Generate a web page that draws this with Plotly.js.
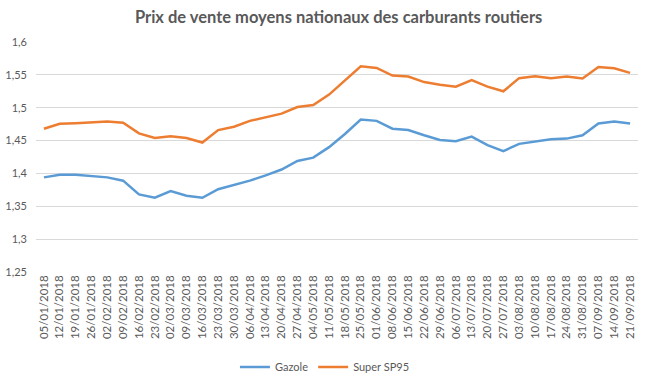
<!DOCTYPE html>
<html><head><meta charset="utf-8">
<script src="https://cdn.plot.ly/plotly-3.0.1.min.js"></script>
<style>html,body{margin:0;padding:0;background:#fff}#c{width:645px;height:389px}</style>
</head><body><div id="c"></div>
<script>
const dates = ["05/01/2018","12/01/2018","19/01/2018","26/01/2018","02/02/2018","09/02/2018","16/02/2018","23/02/2018","02/03/2018","09/03/2018","16/03/2018","23/03/2018","30/03/2018","06/04/2018","13/04/2018","20/04/2018","27/04/2018","04/05/2018","11/05/2018","18/05/2018","25/05/2018","01/06/2018","08/06/2018","15/06/2018","22/06/2018","29/06/2018","06/07/2018","13/07/2018","20/07/2018","27/07/2018","03/08/2018","10/08/2018","17/08/2018","24/08/2018","31/08/2018","07/09/2018","14/09/2018","21/09/2018"];
const gazole = [1.394,1.398,1.398,1.3955,1.394,1.389,1.368,1.363,1.373,1.366,1.363,1.376,1.382,1.389,1.397,1.406,1.419,1.424,1.440,1.460,1.482,1.480,1.468,1.466,1.458,1.451,1.449,1.456,1.443,1.434,1.445,1.448,1.452,1.453,1.458,1.476,1.479,1.476];
const sp95 = [1.468,1.4755,1.4765,1.478,1.479,1.477,1.461,1.454,1.4565,1.454,1.447,1.466,1.471,1.480,1.485,1.491,1.501,1.504,1.520,1.542,1.563,1.5605,1.549,1.5475,1.539,1.535,1.532,1.542,1.532,1.525,1.545,1.548,1.545,1.5475,1.5445,1.562,1.560,1.553];
const yTicks = [1.25,1.3,1.35,1.4,1.45,1.5,1.55,1.6];

const font = "Lato, 'Open Sans', sans-serif";
Plotly.newPlot('c', [
  {x: dates, y: gazole, name: 'Gazole', type: 'scatter', mode: 'lines', line: {color: '#5B9BD5', width: 2.5}},
  {x: dates, y: sp95, name: 'Super SP95', type: 'scatter', mode: 'lines', line: {color: '#ED7D31', width: 2.5}}
], {
  width: 645, height: 389,
  margin: {l: 36, r: 7, t: 42, b: 101},
  paper_bgcolor: '#fff', plot_bgcolor: '#fff',
  separators: ', ',
  font: {family: font, color: '#595959', size: 11},
  title: {text: '<b>Prix de vente moyens nationaux des carburants routiers</b>', font: {family: font, size: 16.5, color: '#595959'}, x: 0.525, xanchor: 'center', y: 0.955, yanchor: 'middle'},
  xaxis: {type: 'category', range: [-0.5, 37.5], tickangle: -90, showgrid: false, zeroline: false, showline: false, ticks: '', tickfont: {size: 11.5, color: '#595959'}, fixedrange: true},
  yaxis: {range: [1.25, 1.6], tickvals: yTicks, ticktext: yTicks.map(v => String(v).replace('.', ',')), showgrid: true, gridcolor: '#D9D9D9', gridwidth: 1, zeroline: false, showline: false, ticks: '', ticklen: 0, ticklabelstandoff: 8, tickfont: {size: 11, color: '#595959'}, fixedrange: true},
  showlegend: true,
  legend: {orientation: 'h', x: 0.48, xanchor: 'center', y: -0.35, yanchor: 'top', font: {size: 11, color: '#595959'}, itemwidth: 30}
}, {displayModeBar: false, staticPlot: true});
</script></body></html>
